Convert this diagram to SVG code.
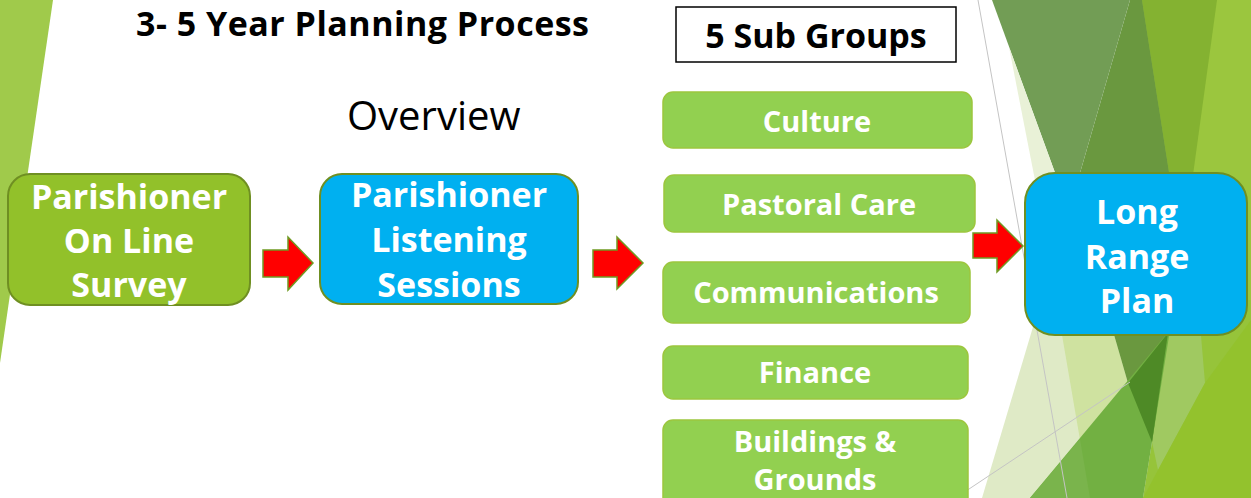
<svg xmlns="http://www.w3.org/2000/svg" width="1251" height="498" viewBox="0 0 1251 498">
<style>
.t{font-family:"Open Sans","Noto Sans",sans-serif;}
.bx{font-family:"Open Sans","Noto Sans",sans-serif;font-weight:bold;fill:#fff;text-anchor:middle;}
.main{stroke:#6f8f22;stroke-width:2;}
.sub{fill:#92d050;stroke:#9cc63e;stroke-width:1.5;}
.arr{fill:#ff0000;stroke:#6f9a22;stroke-width:1.5;stroke-linejoin:miter;}
.gl{stroke:#c4c4c4;stroke-width:1;fill:none;}
</style>
<rect width="1251" height="498" fill="#ffffff"/>
<g id="background">
<polygon points="0,0 53,0 0,363" fill="#a0ca4b"/>
<rect x="1140" y="0" width="111" height="498" fill="#9bc63e"/>
<polygon points="1142,0 1217,0 1182,255" fill="#84b231"/>
<polygon points="1130,0 1142,0 1182,255 1110,290 1069,211" fill="#6a983f"/>
<polygon points="992,0 1130,0 1069,211" fill="#729d55"/>
<polygon points="1009,47 1069,211 1041,211" fill="#e9f1d7"/>
<polygon points="1041,300 1251,300 1251,498 982,498" fill="#dfeac6"/>
<polygon points="1056,300 1104,300 1128,383 1090,498" fill="#cfe2a0"/>
<polygon points="1104,300 1251,300 1251,498 1143,498 1152,442" fill="#96c43a"/>
<polygon points="1171,300 1198,300 1205,383 1158,470 1152,442" fill="#a0c961"/>
<polygon points="1251,320 1251,498 1143,498 1158,470 1205,383" fill="#93c22d"/>
<polygon points="1104,300 1172,300 1167,333 1152,442 1128,383" fill="#6a983f"/>
<polygon points="1030,498 1170,330 1152,442 1143,498" fill="#72b042"/>
<polygon points="1030,498 1080,439 1090,498" fill="#7ab44c"/>
<polygon points="1128,383 1168,333 1152,442" fill="#4e8a26"/>
<line class="gl" x1="978" y1="0" x2="1067" y2="498"/>
<line class="gl" x1="960" y1="495" x2="1130" y2="382"/>
</g>
<g id="title">
<text class="t" x="136" y="36" font-size="34" font-weight="bold" fill="#000" letter-spacing="0.5">3- 5 Year Planning Process</text>
</g>
<g id="subtitle">
<text class="t" x="347" y="130" font-size="40" fill="#000">Overview</text>
</g>
<g id="subgroups-header">
<rect x="676" y="7" width="280" height="55" fill="#fff" stroke="#000" stroke-width="1.5"/>
<text class="t" x="816" y="48" font-size="34" font-weight="bold" fill="#000" text-anchor="middle">5 Sub Groups</text>
</g>
<g id="survey">
<rect class="main" x="8" y="174" width="242" height="131" rx="22" fill="#92c12a"/>
<text class="bx" x="129" y="209" font-size="34">Parishioner</text>
<text class="bx" x="129" y="253" font-size="34">On Line</text>
<text class="bx" x="129" y="297" font-size="34">Survey</text>
</g>
<g id="listening">
<rect class="main" x="320" y="174" width="258" height="130" rx="22" fill="#00b0f0"/>
<text class="bx" x="449" y="207" font-size="34">Parishioner</text>
<text class="bx" x="449" y="252" font-size="34">Listening</text>
<text class="bx" x="449" y="297" font-size="34">Sessions</text>
</g>
<g id="culture">
<rect class="sub" x="663" y="92" width="309" height="56" rx="10"/>
<text class="bx" x="817" y="132" font-size="29">Culture</text>
</g>
<g id="pastoral">
<rect class="sub" x="664" y="175" width="311" height="57" rx="10"/>
<text class="bx" x="819" y="215" font-size="29">Pastoral Care</text>
</g>
<g id="communications">
<rect class="sub" x="663" y="262" width="307" height="61" rx="10"/>
<text class="bx" x="816" y="303" font-size="29">Communications</text>
</g>
<g id="finance">
<rect class="sub" x="663" y="346" width="305" height="53" rx="10"/>
<text class="bx" x="815" y="383" font-size="29">Finance</text>
</g>
<g id="buildings">
<rect class="sub" x="663" y="420" width="305" height="90" rx="10"/>
<text class="bx" x="815" y="452" font-size="29">Buildings &amp;</text>
<text class="bx" x="815" y="490" font-size="29">Grounds</text>
</g>
<g id="longrange">
<rect class="main" x="1025" y="173" width="222" height="162" rx="30" fill="#00b0f0" stroke-width="2.5"/>
<text class="bx" x="1137" y="224" font-size="34">Long</text>
<text class="bx" x="1137" y="269" font-size="34">Range</text>
<text class="bx" x="1137" y="313" font-size="34">Plan</text>
</g>
<g id="connectors">
<polygon class="arr" points="263,250 288,250 288,237 313,263 288,290 288,277 263,277"/>
<polygon class="arr" points="593,250 617,250 617,237 643,263 617,289 617,277 593,277"/>
<polygon class="arr" points="973,233 997,233 997,220 1023,246 997,272 997,258 973,258"/>
</g>
</svg>
